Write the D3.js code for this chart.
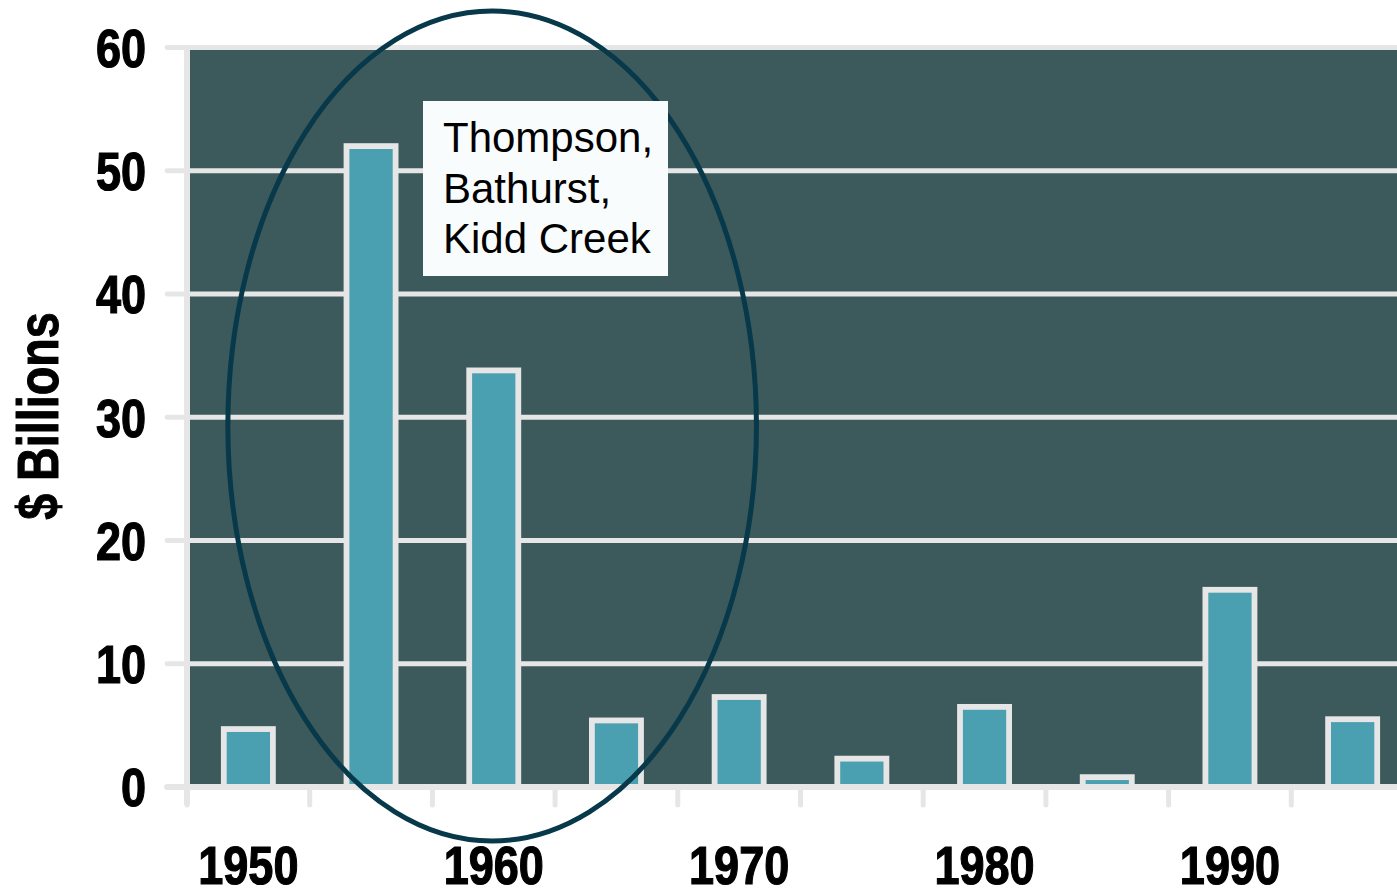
<!DOCTYPE html>
<html>
<head>
<meta charset="utf-8">
<script src="https://cdn.jsdelivr.net/npm/d3@7"></script>
<style>
  html, body { margin: 0; padding: 0; background: #ffffff; overflow: hidden; }
  svg { display: block; }
</style>
</head>
<body>
<svg id="chart" width="1397" height="894"></svg>
<script>
// ---- data ----
const years = ["1950","1955","1960","1965","1970","1975","1980","1985","1990","1995"];
const values = [4.7, 52.0, 33.8, 5.4, 7.3, 2.3, 6.5, 0.8, 16.0, 5.5];
const yTicks = [0, 10, 20, 30, 40, 50, 60];
const xLabels = ["1950","1960","1970","1980","1990"];
const yTitle = "$ Billions";
const noteLines = ["Thompson,", "Bathurst,", "Kidd Creek"];
const highlightYears = ["1950", "1965"]; // span covered by the ellipse (edges)

// ---- layout ----
const plotLeft = 187, plotTop = 47.5, plotBottom = 787;
const bandStep = 122.7;
const plotRight = plotLeft + bandStep * years.length;

const svg = d3.select("#chart");
const gridColor = "#e6e6e6";
const bgColor = "#3c5a5b";
const barColor = "#4a9fb0";
const ellipseColor = "#07394a";

const x = d3.scaleBand().domain(years).range([plotLeft, plotRight])
  .paddingInner(0.6).paddingOuter(0.3).align(0.5);
const y = d3.scaleLinear().domain([0, 60]).range([plotBottom, plotTop]);

// plot background
svg.append("rect")
  .attr("x", plotLeft).attr("y", y(60))
  .attr("width", plotRight - plotLeft).attr("height", y(0) - y(60))
  .attr("fill", bgColor);

// gridlines (with left tick stubs)
svg.append("g").selectAll("line").data(yTicks.filter(d => d !== 0)).join("line")
  .attr("x1", 167).attr("x2", plotRight)
  .attr("y1", d => y(d)).attr("y2", d => y(d))
  .attr("stroke", gridColor).attr("stroke-width", 4.8)
  .attr("stroke-linecap", "round");

// bars
svg.append("g").selectAll("rect").data(years).join("rect")
  .attr("x", d => x(d))
  .attr("width", x.bandwidth())
  .attr("y", (d, i) => y(values[i]))
  .attr("height", (d, i) => y(0) - y(values[i]))
  .attr("fill", barColor)
  .attr("stroke", gridColor)
  .attr("stroke-width", 5.8);

// x axis baseline
svg.append("line")
  .attr("x1", 167).attr("x2", plotRight)
  .attr("y1", y(0)).attr("y2", y(0))
  .attr("stroke", gridColor).attr("stroke-width", 5.8)
  .attr("stroke-linecap", "round");

// x boundary ticks
svg.append("g").selectAll("line").data(years).join("line")
  .attr("x1", d => x(d) + x.bandwidth() / 2 - x.step() / 2)
  .attr("x2", d => x(d) + x.bandwidth() / 2 - x.step() / 2)
  .attr("y1", y(0)).attr("y2", 805)
  .attr("stroke", gridColor).attr("stroke-width", 5)
  .attr("stroke-linecap", "round");

// y axis vertical line
svg.append("line")
  .attr("x1", plotLeft).attr("x2", plotLeft)
  .attr("y1", y(60) - 2).attr("y2", 805)
  .attr("stroke", gridColor).attr("stroke-width", 6);

// condensed bold look: Liberation Sans Bold squeezed horizontally
const axisFont = "'Liberation Sans', Arial, sans-serif";

// y tick labels
const yAxis = d3.axisLeft(y).tickValues(yTicks).tickSize(0).tickPadding(0);
const gy = svg.append("g").attr("transform", `translate(146,0)`).call(yAxis);
gy.select(".domain").remove();
gy.selectAll("text")
  .attr("x", 0).attr("dy", "0.358em")
  .attr("transform", "scale(0.85,1)")
  .style("font-family", axisFont).style("font-weight", "bold")
  .style("font-size", "53px").attr("fill", "#000")
  .attr("stroke", "#000").attr("stroke-width", 1.2);

// x tick labels
const xAxis = d3.axisBottom(x).tickValues(xLabels).tickSize(0).tickPadding(0);
const gx = svg.append("g").attr("transform", `translate(0,884)`).call(xAxis);
gx.select(".domain").remove();
gx.selectAll("text")
  .attr("y", 0).attr("dy", 0)
  .attr("transform", "scale(0.85,1)")
  .style("font-family", axisFont).style("font-weight", "bold")
  .style("font-size", "53px").attr("fill", "#000")
  .attr("stroke", "#000").attr("stroke-width", 1.2);

// y title
svg.append("text")
  .attr("transform", "translate(58,416) rotate(-90) scale(0.82,1)")
  .attr("text-anchor", "middle")
  .style("font-family", axisFont).style("font-weight", "bold")
  .style("font-size", "57px").attr("fill", "#000")
  .attr("stroke", "#000").attr("stroke-width", 1)
  .text(yTitle);

// ellipse highlight, positioned from the scales
const ex1 = x(highlightYears[0]) + x.bandwidth() / 2 - 20.5;
const ex2 = x(highlightYears[1]) + x.bandwidth() / 2 + 140;
svg.append("ellipse")
  .attr("cx", (ex1 + ex2) / 2)
  .attr("cy", 426)
  .attr("rx", (ex2 - ex1) / 2)
  .attr("ry", 415)
  .attr("fill", "none")
  .attr("stroke", ellipseColor)
  .attr("stroke-width", 5);

// annotation box
svg.append("rect")
  .attr("x", 423).attr("y", 101)
  .attr("width", 245).attr("height", 175)
  .attr("fill", "#f9fcfd");
svg.append("g").selectAll("text").data(noteLines).join("text")
  .attr("x", 443)
  .attr("y", (d, i) => 152 + i * 50.6)
  .style("font-family", "'Liberation Sans', Arial, sans-serif")
  .style("font-size", "42px").attr("fill", "#000")
  .text(d => d);
</script>
</body>
</html>
